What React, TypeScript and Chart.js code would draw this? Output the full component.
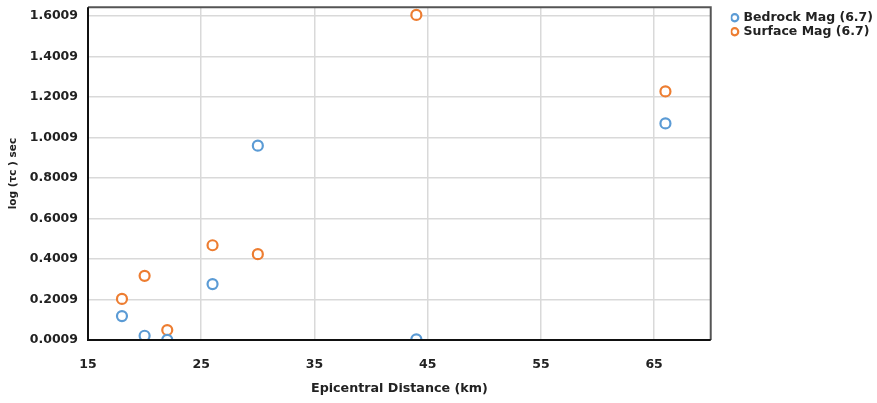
import React, { useEffect, useRef } from "react";
import { Chart, registerables } from "chart.js";

Chart.register(...registerables);

const bedrockX = [18, 20, 22, 26, 30, 44, 66];
const bedrockY = [0.119, 0.022, 0.002, 0.277, 0.961, 0.004, 1.071];
const surfaceX = [18, 20, 22, 26, 30, 44, 66];
const surfaceY = [0.204, 0.318, 0.05, 0.469, 0.425, 1.607, 1.229];
const xTicks = [15, 25, 35, 45, 55, 65];
const yTicks = [0.0009, 0.2009, 0.4009, 0.6009, 0.8009, 1.0009, 1.2009, 1.4009, 1.6009];

const FONT = "'DejaVu Sans', sans-serif";
const LEGEND_EXTRA = 14;
const LEGEND_SHIFT = 20;
const LEGEND_DROP = 4;

const framePlugin = {
  id: "frame",
  afterInit(chart: any) {
    const lg = chart.legend;
    if (lg && !lg.__wrapped) {
      const orig = lg.fit.bind(lg);
      lg.fit = function () {
        orig();
        this.width += LEGEND_EXTRA;
      };
      lg.__wrapped = true;
    }
  },
  afterLayout(chart: any) {
    const lg = chart.legend;
    if (lg) {
      lg.left += LEGEND_SHIFT;
      lg.top += LEGEND_DROP;
    }
  },
  afterDraw(chart: any) {
    const { ctx, chartArea } = chart;
    ctx.save();
    ctx.strokeStyle = "#555555";
    ctx.lineWidth = 2;
    ctx.beginPath();
    ctx.moveTo(chartArea.left, chartArea.top);
    ctx.lineTo(chartArea.right, chartArea.top);
    ctx.lineTo(chartArea.right, chartArea.bottom);
    ctx.stroke();
    ctx.strokeStyle = "#111111";
    ctx.beginPath();
    ctx.moveTo(chartArea.left, chartArea.top);
    ctx.lineTo(chartArea.left, chartArea.bottom);
    ctx.lineTo(chartArea.right, chartArea.bottom);
    ctx.stroke();
    ctx.restore();
  },
};

export default function App() {
  const ref = useRef<HTMLCanvasElement>(null);
  useEffect(() => {
    if (!ref.current) return;
    const chart = new Chart(ref.current, {
      type: "scatter",
      data: {
        datasets: [
          {
            label: "Bedrock Mag (6.7)",
            data: bedrockX.map((x, i) => ({ x, y: bedrockY[i] })),
            borderColor: "#5B9BD5",
            backgroundColor: "#ffffff",
            pointRadius: 5,
            pointBorderWidth: 2.2,
          },
          {
            label: "Surface Mag (6.7)",
            data: surfaceX.map((x, i) => ({ x, y: surfaceY[i] })),
            borderColor: "#ED7D31",
            backgroundColor: "#ffffff",
            pointRadius: 5,
            pointBorderWidth: 2.2,
          },
        ],
      },
      options: {
        animation: false,
        responsive: true,
        maintainAspectRatio: false,
        layout: { padding: { top: 6, right: 0, left: 0, bottom: 0 } },
        plugins: {
          tooltip: { enabled: false },
          legend: {
            position: "right",
            align: "start",
            labels: {
              usePointStyle: true,
              pointStyle: "circle",
              boxWidth: 5,
              boxHeight: 5,
              padding: 1.5,
              color: "#222",
              font: { family: FONT, size: 12.5, weight: "bold" },
            },
          },
        },
        scales: {
          x: {
            type: "linear",
            min: 15,
            max: 70,
            afterBuildTicks: (axis: any) => {
              axis.ticks = xTicks.map((v) => ({ value: v }));
            },
            afterFit: (axis: any) => {
              axis.height = 63;
              axis.paddingLeft = 0;
              axis.paddingRight = 0;
            },
            grid: { color: "#d9d9d9", lineWidth: 1.5, drawTicks: false },
            border: { display: false },
            ticks: {
              padding: 17,
              color: "#222",
              font: { family: FONT, size: 12.5, weight: "bold" },
              maxRotation: 0,
            },
            title: {
              display: true,
              text: "Epicentral Distance (km)",
              color: "#222",
              font: { family: FONT, size: 12.7, weight: "bold" },
              padding: { top: 0, bottom: 7 },
            },
          },
          y: {
            type: "linear",
            min: 0.0009,
            max: 1.645,
            afterBuildTicks: (axis: any) => {
              axis.ticks = yTicks.map((v) => ({ value: v }));
            },
            afterFit: (axis: any) => {
              axis.width = 88;
              axis.paddingTop = 0;
              axis.paddingBottom = 0;
            },
            grid: { color: "#d9d9d9", lineWidth: 1.5, drawTicks: false },
            border: { display: false },
            ticks: {
              padding: 10,
              color: "#222",
              font: { family: FONT, size: 12.5, weight: "bold" },
              callback: (v: any) => Number(v).toFixed(4),
            },
            title: {
              display: true,
              text: "log (τc ) sec",
              color: "#222",
              font: { family: FONT, size: 10.5, weight: "bold" },
              padding: { top: 7, bottom: 0 },
            },
          },
        },
      },
      plugins: [framePlugin],
    });
    return () => chart.destroy();
  }, []);
  return (
    <div style={{ position: "fixed", left: 0, top: 0, width: 877, height: 403, background: "#fff" }}>
      <canvas ref={ref} />
    </div>
  );
}
